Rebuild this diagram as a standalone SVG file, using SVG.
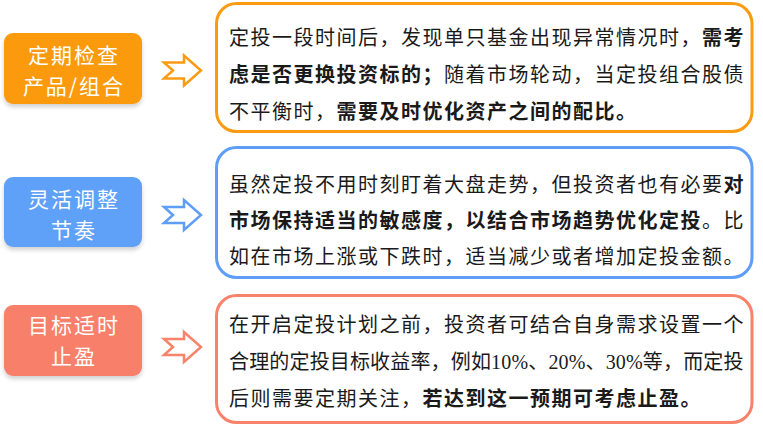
<svg xmlns="http://www.w3.org/2000/svg" width="763" height="427" viewBox="0 0 763 427">
<defs>
<style>
.lbl{font-family:"Noto Sans CJK SC","Noto Sans",sans-serif;font-size:21px;letter-spacing:2px;fill:#ffffff;text-anchor:middle}
.txt{font-family:"Noto Sans CJK SC","Noto Sans",sans-serif;font-size:20px;fill:#1a1a1a;letter-spacing:1.5px}
.b{font-weight:bold}
.num{font-family:"Liberation Serif","Noto Sans CJK SC",serif}
.frame{fill:#ffffff;stroke-width:3}
.arrow{fill:#ffffff;stroke-width:2.5;stroke-linejoin:miter}
</style>
<filter id="sh" x="-10%" y="-10%" width="120%" height="140%">
<feDropShadow dx="0" dy="3" stdDeviation="2" flood-color="#000000" flood-opacity="0.18"/>
</filter>
</defs>
<rect width="763" height="427" fill="#ffffff"/>

<g id="label1">
<rect x="4" y="33" width="138" height="71" rx="9" fill="#FB9A0E" filter="url(#sh)"/>
<text class="lbl" x="74" y="63">定期检查</text>
<text class="lbl" x="74" y="94">产品/组合</text>
</g>
<g id="label2">
<rect x="4" y="177" width="138" height="70" rx="9" fill="#5FA0F8" filter="url(#sh)"/>
<text class="lbl" x="74" y="206.5">灵活调整</text>
<text class="lbl" x="74" y="237.5">节奏</text>
</g>
<g id="label3">
<rect x="4" y="305" width="138" height="71" rx="9" fill="#F8806A" filter="url(#sh)"/>
<text class="lbl" x="74" y="332.5">目标适时</text>
<text class="lbl" x="74" y="363.5">止盈</text>
</g>

<g id="connectors">
<polygon class="arrow" stroke="#FA9B12" points="164,62.5 184,62.5 184,55.5 201,70.5 184,85.5 184,78.5 164,78.5 173,70.5"/>
<polygon class="arrow" stroke="#5E9EF8" points="164,207 184,207 184,200 201,215 184,230 184,223 164,223 173,215"/>
<polygon class="arrow" stroke="#F8826A" points="164,339 184,339 184,332 201,347 184,362 184,355 164,355 173,347"/>
</g>

<g id="box1">
<rect class="frame" x="216.5" y="3.5" width="535.5" height="128" rx="20" stroke="#FA9B12"/>
<text class="txt" x="229" y="45">定投一段时间后，发现单只基金出现异常情况时，<tspan class="b">需考</tspan></text>
<text class="txt" x="229" y="81.5"><tspan class="b">虑是否更换投资标的；</tspan>随着市场轮动，当定投组合股债</text>
<text class="txt" x="229" y="118.5">不平衡时，<tspan class="b">需要及时优化资产之间的配比。</tspan></text>
</g>

<g id="box2">
<rect class="frame" x="216.5" y="147.5" width="535.5" height="130" rx="20" stroke="#5E9EF8"/>
<text class="txt" x="229" y="191.5">虽然定投不用时刻盯着大盘走势，但投资者也有必要<tspan class="b">对</tspan></text>
<text class="txt" x="229" y="228"><tspan class="b">市场保持适当的敏感度，以结合市场趋势优化定投</tspan>。比</text>
<text class="txt" x="229" y="264">如在市场上涨或下跌时，适当减少或者增加定投金额。</text>
</g>

<g id="box3">
<rect class="frame" x="216.5" y="295.5" width="535.5" height="127" rx="20" stroke="#F8826A"/>
<text class="txt" x="229" y="331.5">在开启定投计划之前，投资者可结合自身需求设置一个</text>
<text class="txt" x="229" y="368.5" textLength="516" lengthAdjust="spacing">合理的定投目标收益率，例如<tspan class="num">10%</tspan>、<tspan class="num">20%</tspan>、<tspan class="num">30%</tspan>等，而定投</text>
<text class="txt" x="229" y="405.5">后则需要定期关注，<tspan class="b">若达到这一预期可考虑止盈。</tspan></text>
</g>
</svg>
